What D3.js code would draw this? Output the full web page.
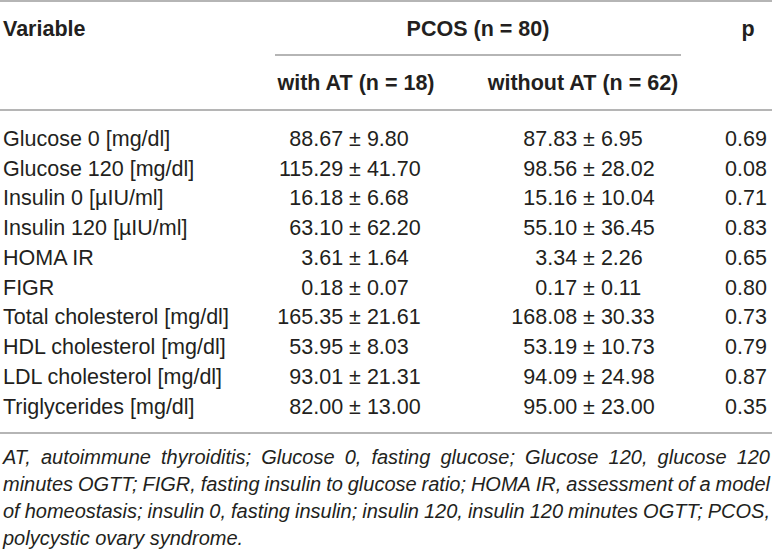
<!DOCTYPE html>
<html>
<head>
<meta charset="utf-8">
<script src="https://cdn.jsdelivr.net/npm/d3@7"></script>
<style>
  html, body { margin: 0; padding: 0; background: #fff; }
  svg { display: block; }
  text { font-family: "Liberation Sans", Arial, Helvetica, sans-serif; fill: #231f20; }
</style>
</head>
<body>
<svg id="chart" width="772" height="552"></svg>
<script>
// ---- data ----
const variables = [
  "Glucose 0 [mg/dl]", "Glucose 120 [mg/dl]", "Insulin 0 [µIU/ml]", "Insulin 120 [µIU/ml]",
  "HOMA IR", "FIGR", "Total cholesterol [mg/dl]", "HDL cholesterol [mg/dl]",
  "LDL cholesterol [mg/dl]", "Triglycerides [mg/dl]"
];
const withATMean    = [88.67, 115.29, 16.18, 63.10, 3.61, 0.18, 165.35, 53.95, 93.01, 82.00];
const withATSD      = [9.80, 41.70, 6.68, 62.20, 1.64, 0.07, 21.61, 8.03, 21.31, 13.00];
const withoutATMean = [87.83, 98.56, 15.16, 55.10, 3.34, 0.17, 168.08, 53.19, 94.09, 95.00];
const withoutATSD   = [6.95, 28.02, 10.04, 36.45, 2.26, 0.11, 30.33, 10.73, 24.98, 23.00];
const pValues       = [0.69, 0.08, 0.71, 0.83, 0.65, 0.80, 0.73, 0.79, 0.87, 0.35];

const headerTop = ["Variable", "PCOS (n = 80)", "p"];
const headerSub = ["with AT (n = 18)", "without AT (n = 62)"];
const footnoteLines = [
  "AT, autoimmune thyroiditis; Glucose 0, fasting glucose; Glucose 120, glucose 120",
  "minutes OGTT; FIGR, fasting insulin to glucose ratio; HOMA IR, assessment of a model",
  "of homeostasis; insulin 0, fasting insulin; insulin 120, insulin 120 minutes OGTT; PCOS,",
  "polycystic ovary syndrome."
];

// ---- layout ----
const W = 772;
const fs = 21.5, fnFs = 20;
const lineColor = "#9d9d9d";
const svg = d3.select("#chart");
const fmt = d3.format(".2f");

const cap = v => v + fs * 0.36;
const y = d3.scalePoint().domain(variables).range([138, 406]);
const colX = { variable: 3, withAT: 355, withoutAT: 589, p: 746 };

function hline(x1, x2, yy) {
  svg.append("line").attr("x1", x1).attr("x2", x2).attr("y1", yy).attr("y2", yy)
    .attr("stroke", lineColor).attr("stroke-width", 1.6);
}

hline(0, W, 1);
hline(275, 681, 55);
hline(0, W, 110);
hline(0, W, 433);

// header
const hdr = svg.append("g").attr("font-weight", "bold").attr("font-size", fs);
hdr.append("text").attr("x", 3).attr("y", cap(28)).text(headerTop[0]);
hdr.append("text").attr("x", 478).attr("y", cap(28)).attr("text-anchor", "middle").text(headerTop[1]);
hdr.append("text").attr("x", 748).attr("y", cap(28)).attr("text-anchor", "middle").text(headerTop[2]);
hdr.append("text").attr("x", 356).attr("y", cap(82)).attr("text-anchor", "middle").text(headerSub[0]);
hdr.append("text").attr("x", 583).attr("y", cap(82)).attr("text-anchor", "middle").text(headerSub[1]);

// body
const body = svg.append("g").attr("font-size", fs);
const pmProbe = body.append("text").text("±");
const pmW = pmProbe.node().getComputedTextLength();
pmProbe.remove();
const gap = fs * 0.278 + pmW / 2;

const rows = variables.map((v, i) => ({
  v, m1: withATMean[i], s1: withATSD[i], m2: withoutATMean[i], s2: withoutATSD[i], p: pValues[i]
}));

const rg = body.selectAll("g.row").data(rows).join("g").attr("class", "row")
  .attr("transform", d => `translate(0,${cap(y(d.v))})`);

rg.append("text").attr("x", colX.variable).text(d => d.v);

function pmCell(sel, cx, mKey, sKey) {
  sel.append("text").attr("x", cx - gap).attr("text-anchor", "end").text(d => fmt(d[mKey]));
  sel.append("text").attr("x", cx).attr("text-anchor", "middle").text("±");
  sel.append("text").attr("x", cx + gap).attr("text-anchor", "start").text(d => fmt(d[sKey]));
}
pmCell(rg, colX.withAT, "m1", "s1");
pmCell(rg, colX.withoutAT, "m2", "s2");
rg.append("text").attr("x", colX.p).attr("text-anchor", "middle").text(d => fmt(d.p));

// footnote (justified)
const fn = svg.append("g").attr("font-size", fnFs).attr("font-style", "italic");
const fnY = d3.scaleLinear().domain([0, 3]).range([457, 538]);
const left = 3, right = 770;
footnoteLines.forEach((line, li) => {
  const words = line.split(" ");
  const yy = fnY(li) + fnFs * 0.36;
  const nodes = words.map(w => fn.append("text").attr("y", yy).text(w));
  const widths = nodes.map(n => n.node().getComputedTextLength());
  const total = d3.sum(widths);
  const justify = li < footnoteLines.length - 1;
  const sp = justify ? (right - left - total) / (words.length - 1) : fnFs * 0.278;
  let x = left;
  nodes.forEach((n, k) => { n.attr("x", x); x += widths[k] + sp; });
});
</script>
</body>
</html>
